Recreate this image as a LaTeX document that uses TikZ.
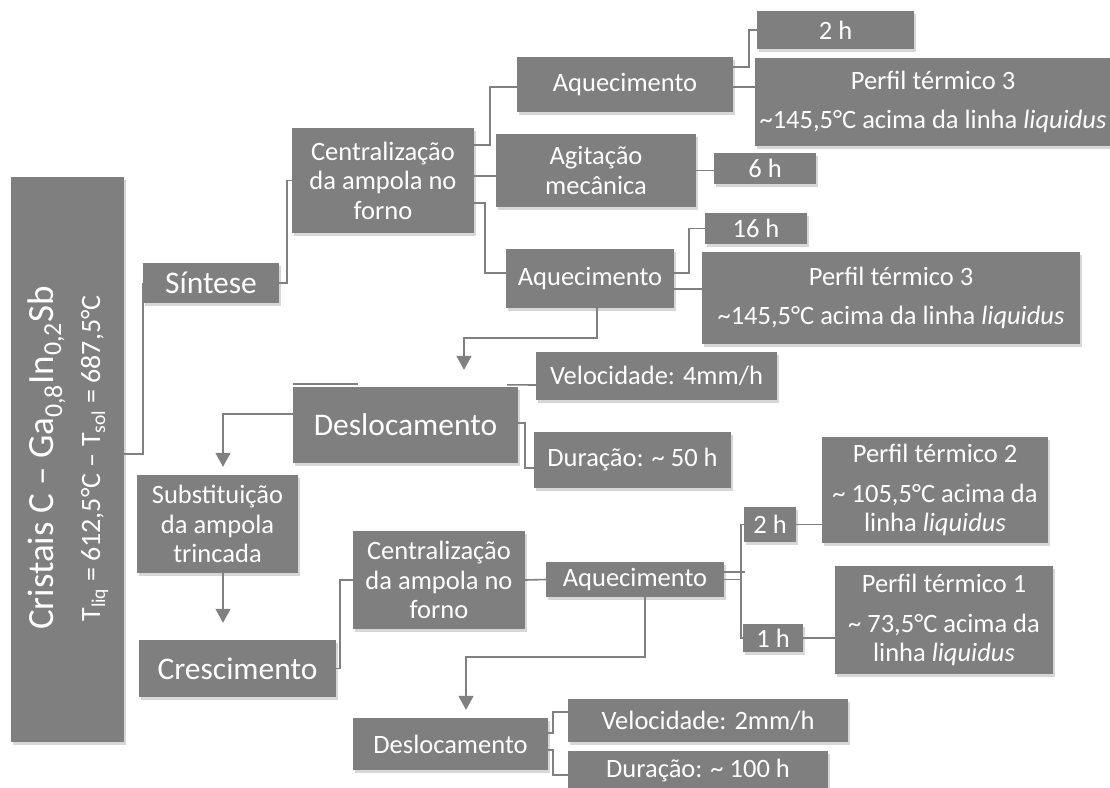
\documentclass[tikz,border=0pt]{standalone}
\usepackage{fontspec}
\setmainfont{Carlito}
\usepackage{tikz}
\usetikzlibrary{arrows.meta,shadows}
\definecolor{boxgray}{RGB}{127,127,127}
\definecolor{linegray}{RGB}{128,128,128}

\begin{document}
\begin{tikzpicture}[x=1pt,y=-1pt,
	box/.style={fill=boxgray,text=white,inner sep=0pt,align=center,
		font=\fontsize{26.5}{29.5}\selectfont,
		drop shadow={shadow xshift=2pt,shadow yshift=-3pt,fill=black!45,opacity=.35}},
	bigbox/.style={box,font=\fontsize{31.5}{36}\selectfont},
	sidetext/.style={rotate=90,anchor=base,text=white,inner sep=0pt},
	link/.style={draw=linegray,line width=1.6pt},
	flow/.style={link,-{Triangle[length=14pt,width=15pt]}}]
	\useasboundingbox (0,0) rectangle (1110,787);
	\clip (0,0) rectangle (1110,787);

	% main column
	\node[box,minimum width=113,minimum height=565] (cristais) at (67.5,459.5) {};
	\node[sidetext,font=\fontsize{37}{44}\selectfont] (titulo) at (53,458)
		{Cristais C -- Ga\textsubscript{0,8}In\textsubscript{0,2}Sb};
	\node[sidetext,font=\fontsize{28}{32}\selectfont] (subtitulo) at (100,458.5)
		{T\textsubscript{liq} = 612,5°C -- T\textsubscript{sol} = 687,5°C};

	% synthesis branch
	\node[bigbox,minimum width=136,minimum height=40] (sintese) at (211,283) {Síntese};
	\node[box,minimum width=182,minimum height=105] (centrA) at (383,180.5) {Centralização\\da ampola no\\forno};
	\node[box,minimum width=216,minimum height=55] (aquecA) at (625,84.5) {Aquecimento};
	\node[box,minimum width=200,minimum height=73] (agitacao) at (596,170.5) {Agitação\\mecânica};
	\node[box,minimum width=168,minimum height=59] (aquecB) at (590,278.5) {Aquecimento};
	\node[box,minimum width=157,minimum height=38] (tempoA) at (835.5,30) {2 h};
	\node[box,minimum width=356,minimum height=88] (perfilA) at (933,102)
		{Perfil térmico 3\\[10pt]\textasciitilde145,5°C acima da linha \textit{liquidus}};
	\node[box,minimum width=102,minimum height=31] (tempoB) at (765,168.5) {6 h};
	\node[box,minimum width=102,minimum height=31] (tempoC) at (756,228.5) {16 h};
	\node[box,minimum width=378,minimum height=92] (perfilB) at (891,298)
		{Perfil térmico 3\\[10pt]\textasciitilde145,5°C acima da linha \textit{liquidus}};

	% first pulling
	\node[bigbox,minimum width=225,minimum height=76] (deslA) at (405.5,425) {Deslocamento};
	\node[box,minimum width=241,minimum height=48] (velA) at (656.5,376) {Velocidade: 4mm/h};
	\node[box,minimum width=197,minimum height=56] (durA) at (632.5,460) {Duração: \textasciitilde{} 50 h};
	\node[box,minimum width=161,minimum height=98] (subst) at (217.5,524) {Substituição\\da ampola\\trincada};

	% growth branch
	\node[bigbox,minimum width=197,minimum height=57] (cresc) at (237.5,668.5) {Crescimento};
	\node[box,minimum width=172,minimum height=98] (centrB) at (439,580) {Centralização\\da ampola no\\forno};
	\node[box,minimum width=178,minimum height=35] (aquecC) at (635,579.5) {Aquecimento};
	\node[box,minimum width=52,minimum height=35] (tempoD) at (770,524.5) {2 h};
	\node[box,minimum width=60,minimum height=28] (tempoE) at (773,638) {1 h};
	\node[box,minimum width=226,minimum height=106] (perfilC) at (935,490)
		{Perfil térmico 2\\[10pt]\textasciitilde{} 105,5°C acima da\\linha \textit{liquidus}};
	\node[box,minimum width=218,minimum height=108] (perfilD) at (944,620)
		{Perfil térmico 1\\[10pt]\textasciitilde{} 73,5°C acima da\\linha \textit{liquidus}};
	\node[box,minimum width=195,minimum height=52] (deslB) at (450.5,744) {Deslocamento};
	\node[box,minimum width=280,minimum height=43] (velB) at (708,720.5) {Velocidade: 2mm/h};
	\node[box,minimum width=260,minimum height=40] (durB) at (698,771) {Duração: \textasciitilde{} 100 h};

	% connectors
	\draw[link] ([yshift=5.5pt]cristais.east) -| (sintese.west);
	\draw[link] (sintese.east) -- ++(8,0) |- (centrA.west);
	\draw[link] ([yshift=35.5pt]centrA.east) -- ++(16,0) |- ([yshift=-2.5pt]aquecA.west);
	\draw[link] ([yshift=4.5pt]centrA.east) -- ([yshift=-5.5pt]agitacao.west);
	\draw[link] ([yshift=-22.5pt]centrA.east) -- ++(11,0) |- ([yshift=5.5pt]aquecB.west);
	\draw[link] ([yshift=17.5pt]aquecA.east) -- ++(16,0) |- (tempoA.west);
	\draw[link] ([yshift=-2.5pt]aquecA.east) -- ([yshift=15pt]perfilA.west);
	\draw[link] (agitacao.east) -- (agitacao.east -| tempoB.west);
	\draw[link] ([yshift=5.5pt]aquecB.east) -- ++(15,0) |- (tempoC.west);
	\draw[link] ([yshift=-10.5pt]aquecB.east) -- ([yshift=9pt]perfilB.west);
	\draw[flow] ([xshift=7pt]aquecB.south) -- ++(0,30) -| ([xshift=58.5pt,yshift=17pt]deslA.north);
	\draw[link] ([yshift=3pt]deslA.north west) -- ++(65,0);
	\draw[link] ([xshift=-11pt,yshift=2pt]deslA.north east) -- ([yshift=-9pt]velA.west);
	\draw[link] ([yshift=2pt]deslA.east) -- ++(7,0) |- ([yshift=-8pt]durA.west);
	\draw[flow] ([yshift=11pt]deslA.west) -| ([xshift=5.5pt,yshift=8pt]subst.north);
	\draw[flow] ([xshift=5.5pt]subst.south) -- ([xshift=-14.5pt,yshift=17pt]cresc.north);
	\draw[link] (cresc.east) -- ++(4,0) |- (centrB.west);
	\draw[link] (centrB.east) -- (aquecC.west);
	\draw[flow] ([xshift=10pt]aquecC.south) -- ++(0,60) -| ([xshift=15.5pt,yshift=8pt]deslB.north);
	\draw[link] ([yshift=7.5pt]aquecC.east) -- ++(21,0);
	\draw[link] (aquecC.east) -- ++(17,0) coordinate (garfo);
	\draw[link] (garfo) |- (tempoD.west);
	\draw[link] (garfo) |- (tempoE.west);
	\draw[link] (tempoD.east) -- (tempoD.east -| perfilC.west);
	\draw[link] (tempoE.east) -- (tempoE.east -| perfilD.west);
	\draw[link] ([yshift=11pt]deslB.east) -- ++(5,0) |- ([yshift=8.5pt]velB.west);
	\draw[link] ([yshift=-6pt]deslB.east) -- ++(5,0) |- ([yshift=-4pt]durB.west);
\end{tikzpicture}
\end{document}
